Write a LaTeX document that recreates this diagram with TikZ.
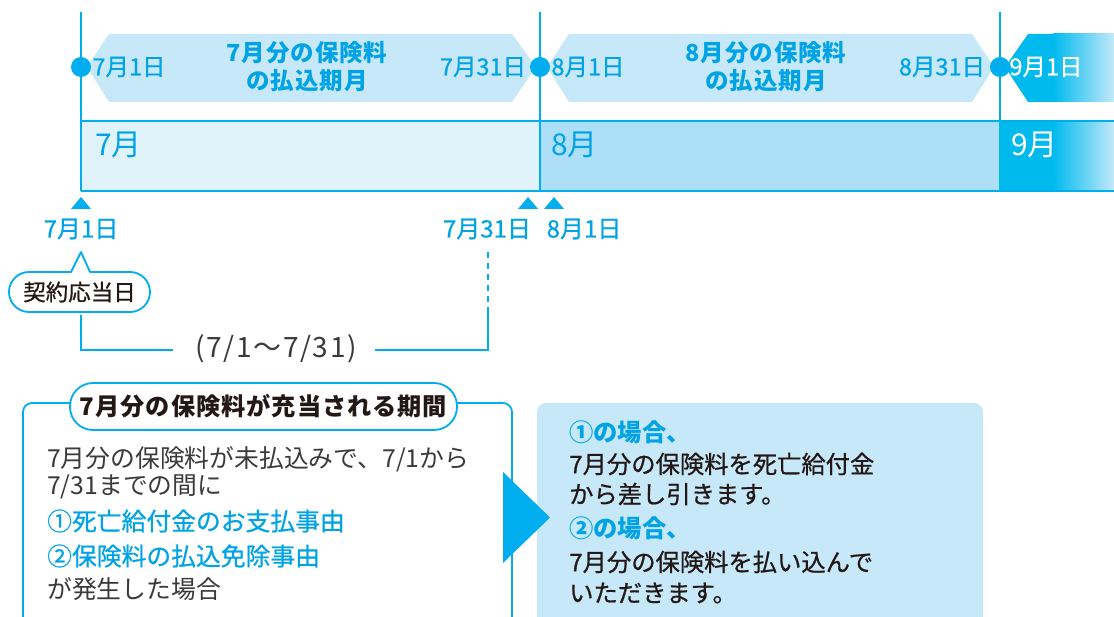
\documentclass[tikz,border=0pt]{standalone}
\usepackage{fontspec}
\setmainfont{Noto Sans CJK JP}
\newfontfamily\jpsp[LetterSpace=4]{Noto Sans CJK JP}
\newfontfamily\jprng[LetterSpace=6]{Noto Sans CJK JP}
\newfontfamily\jpmed[FakeBold=0.7]{Noto Sans CJK JP}
\definecolor{cyanb}{HTML}{00AEEF}
\definecolor{textb}{HTML}{00A3E6}
\definecolor{bandf}{HTML}{C6E8F8}
\definecolor{julf}{HTML}{E0F3FB}
\definecolor{augf}{HTML}{ADE0F8}
\definecolor{sepf}{HTML}{00BAEE}
\definecolor{fadef}{HTML}{C4E9F9}
\definecolor{darkt}{HTML}{231815}
\definecolor{grayt}{HTML}{3A3A3A}
\tikzset{
  bandshape/.style={fill=bandf},
  dot/.style={circle, fill=cyanb, minimum size=20pt, inner sep=0pt},
  vline/.style={draw=cyanb, line width=1.2pt},
  barline/.style={draw=cyanb, line width=1.6pt},
  banddate/.style={text=textb, font=\jpmed\fontsize{23.5}{26}\selectfont, inner sep=0pt},
  bandtitle/.style={text=textb, font=\jpsp\bfseries\fontsize{23.5}{28}\selectfont, align=center, inner sep=0pt},
  monthlbl/.style={font=\fontsize{30}{34}\selectfont, inner sep=0pt, anchor=west},
  marker/.style={fill=cyanb},
  datelbl/.style={text=textb, font=\jpmed\fontsize{24}{26}\selectfont, inner sep=0pt},
  calloutbox/.style={draw=cyanb, line width=1.8pt, fill=white, line join=round},
  callouttxt/.style={text=darkt, font=\jpmed\fontsize{22.5}{24}\selectfont, inner sep=0pt},
  bracket/.style={draw=cyanb, line width=1.6pt},
  rangetxt/.style={text=grayt, font=\jprng\fontsize{28}{30}\selectfont, inner sep=0pt},
  framebox/.style={draw=cyanb, line width=1.8pt, fill=white, rounded corners=9pt},
  pill/.style={draw=cyanb, line width=1.8pt, fill=white, rounded corners=23pt,
    minimum width=387pt, minimum height=47pt, inner sep=0pt, text=darkt,
    font=\jpsp\bfseries\fontsize{24.2}{28}\selectfont},
  bodytxt/.style={text=grayt, font=\fontsize{24.8}{28}\selectfont, inner sep=0pt, anchor=west},
  bodyblue/.style={text=textb, font=\jpmed\fontsize{24.8}{28}\selectfont, inner sep=0pt, anchor=west},
  resbox/.style={fill=bandf, rounded corners=9pt},
  restxt/.style={text=darkt, font=\jpmed\fontsize{24.3}{28}\selectfont, inner sep=0pt, anchor=west},
  resblue/.style={text=textb, font=\bfseries\fontsize{24.3}{28}\selectfont, inner sep=0pt, anchor=west},
}
\begin{document}
\begin{tikzpicture}[x=1pt,y=-1pt]
\useasboundingbox (0,0) rectangle (1114,617);
\clip (0,0) rectangle (1114,617);
\fill[white] (0,0) rectangle (1114,617);

% ---------- top bands ----------
\fill[bandshape] (87,67) -- (109,34) -- (512,34) -- (536,67) -- (512,102) -- (109,102) -- cycle;
\fill[bandshape] (547,67) -- (569,34) -- (972,34) -- (994,67) -- (972,102) -- (569,102) -- cycle;
\fill[sepf] (1005,67) -- (1028,34) -- (1114,34) -- (1114,102) -- (1028,102) -- cycle;
\shade[left color=sepf, right color=fadef] (1053,34) rectangle (1114.5,102);

% ---------- month bar ----------
\fill[julf] (81,121) rectangle (540,191);
\fill[augf] (540,121) rectangle (1000,191);
\fill[sepf] (1000,121) rectangle (1055,191);
\shade[left color=sepf, right color=fadef] (1053,121) rectangle (1114.5,191);

\coordinate (t1) at (81,12);
\coordinate (t2) at (540,12);
\coordinate (t3) at (1000,12);
\coordinate (b1) at (81,121);
\coordinate (b2) at (540,121);
\coordinate (b3) at (1000,121);
\coordinate (bl) at (81,191);
\coordinate (br) at (1114,191);
\coordinate (tr) at (1114,121);
\coordinate (m2) at (540,191);
\coordinate (m3) at (1000,191);

\draw[vline] (t1) -- (b1);
\draw[vline] (t2) -- (b2);
\draw[vline] (t3) -- (b3);
\draw[barline] (b1) -- (tr);
\draw[barline] (bl) -- (br);
\draw[barline] (b1) -- (bl);
\draw[barline] (b2) -- (m2);
\draw[draw=sepf, line width=1.2pt] (b3) -- (m3);

\node[dot] (d1) at (81,67) {};
\node[dot] (d2) at (540,67) {};
\node[dot] (d3) at (1000,67) {};

\node[banddate] (a1) at (129,67) {7月1日};
\node[banddate] (a2) at (483,67) {7月31日};
\node[banddate] (a3) at (588,67) {8月1日};
\node[banddate] (a4) at (942,67) {8月31日};
\node[banddate, text=white] (a5) at (1046,67) {9月1日};

\node[bandtitle] (p7) at (307,67) {7月分の保険料\\の払込期月};
\node[bandtitle] (p8) at (766,67) {8月分の保険料\\の払込期月};

\node[monthlbl, text=textb] (mj) at (95,145) {7月};
\node[monthlbl, text=textb] (ma) at (551,145) {8月};
\node[monthlbl, text=white] (ms) at (1011,145) {9月};

% ---------- markers and dates ----------
\fill[marker] (71,209) -- (81,197) -- (91,209) -- cycle;
\fill[marker] (518,209) -- (528,197) -- (538,209) -- cycle;
\fill[marker] (544,209) -- (554,197) -- (564,209) -- cycle;

\node[datelbl] (dl1) at (81,229) {7月1日};
\node[datelbl] (dl2) at (487,229) {7月31日};
\node[datelbl] (dl3) at (584,229) {8月1日};

% ---------- callout ----------
\draw[calloutbox] (71,272) -- (81,252) -- (90,272) -- (130,272)
  arc[start angle=-90, end angle=90, radius=20] -- (29,312)
  arc[start angle=90, end angle=270, radius=20] -- cycle;
\node[callouttxt] (cal) at (79.5,292) {契約応当日};

% ---------- bracket ----------
\node[rangetxt] (rng) at (276,349) {(7/1〜7/31)};
\coordinate (k1) at (81,315);
\coordinate (k2) at (173,350);
\coordinate (k3) at (375,350);
\coordinate (k4) at (488,313);
\coordinate (k5) at (488,250);
\draw[bracket] (k1) |- (k2);
\draw[bracket] (k3) -| (k4);
\draw[bracket, dash pattern=on 6pt off 5pt] (k4) -- (k5);

% ---------- bottom left box ----------
\draw[framebox] (23,660) -- (23,403) -- (512,403) -- (512,660);
\node[pill] (ttl) at (263.5,406.5) {7月分の保険料が充当される期間};

\node[bodytxt] (l1) at (47,459) {7月分の保険料が未払込みで、7/1から};
\node[bodytxt] (l2) at (47,487) {7/31までの間に};
\node[bodyblue] (l3) at (47,521) {①死亡給付金のお支払事由};
\node[bodyblue] (l4) at (47,556) {②保険料の払込免除事由};
\node[bodytxt] (l5) at (47,589) {が発生した場合};

% ---------- right box ----------
\fill[resbox] (537,403) rectangle (983,660);
\fill[cyanb] (503,472) -- (550,517.5) -- (503,563) -- cycle;

\node[resblue] (r1) at (569,432) {①の場合、};
\node[restxt] (r2) at (569,464) {7月分の保険料を死亡給付金};
\node[restxt] (r3) at (569,494) {から差し引きます。};
\node[resblue] (r4) at (569,528) {②の場合、};
\node[restxt] (r5) at (569,562) {7月分の保険料を払い込んで};
\node[restxt] (r6) at (569,593) {いただきます。};
\end{tikzpicture}
\end{document}
